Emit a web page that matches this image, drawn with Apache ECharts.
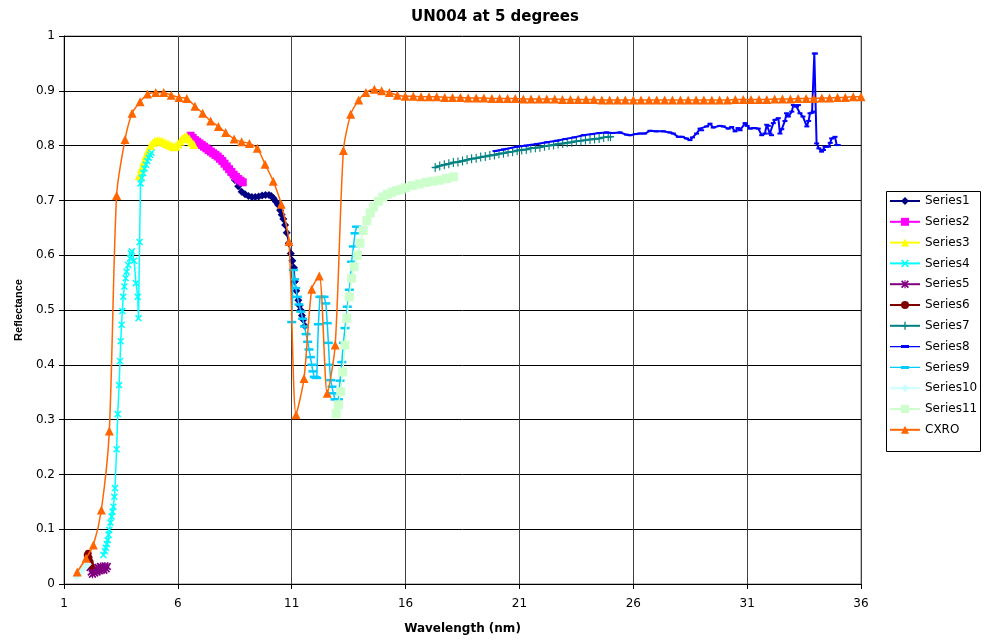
<!DOCTYPE html>
<html>
<head>
<meta charset="utf-8">
<script src="https://cdn.jsdelivr.net/npm/echarts@6/dist/echarts.min.js"></script>
<style>
html,body{margin:0;padding:0;background:#fff;}
#chart{width:984px;height:644px;}
</style>
</head>
<body>
<div id="chart"></div>
<script>
// Axis ticks
const xTicks = {min: 1, max: 36, step: 5};
const yTicks = {min: 0, max: 1, step: 0.1};

// Measured reflectance segments
const s1X = [8.35,8.5,8.65,8.8,8.95,9.1,9.25,9.4,9.55,9.7,9.85,10.0,10.1,10.2,10.3,10.4,10.49,10.56,10.63,10.71,10.78,10.87,10.96,11.03,11.1,11.14,11.2,11.29,11.34,11.39,11.45,11.51,11.58];
const s1Y = [0.748,0.737,0.726,0.716,0.711,0.708,0.706,0.706,0.707,0.709,0.71,0.71,0.708,0.704,0.698,0.692,0.682,0.674,0.666,0.655,0.641,0.622,0.603,0.59,0.577,0.552,0.535,0.518,0.508,0.5,0.49,0.482,0.471];

const s2X = [6.56,6.65,6.75,6.85,6.95,7.05,7.15,7.25,7.35,7.45,7.55,7.65,7.75,7.85,7.95,8.05,8.15,8.25,8.35,8.45,8.55,8.65,8.75,8.85];
const s2Y = [0.818,0.814,0.81,0.807,0.804,0.801,0.798,0.795,0.792,0.789,0.786,0.783,0.78,0.776,0.772,0.767,0.762,0.757,0.752,0.747,0.743,0.739,0.736,0.733];

const s3X = [4.3,4.4,4.5,4.6,4.7,4.8,4.9,5.0,5.1,5.2,5.3,5.4,5.5,5.6,5.7,5.8,5.9,6.0,6.1,6.2,6.3,6.4,6.5,6.6,6.7];
const s3Y = [0.745,0.758,0.77,0.782,0.792,0.8,0.805,0.808,0.809,0.809,0.808,0.806,0.804,0.802,0.8,0.798,0.799,0.803,0.808,0.813,0.816,0.816,0.812,0.806,0.802];

const s4X = [2.73,2.8,2.84,2.88,2.92,2.96,2.99,3.04,3.09,3.13,3.17,3.21,3.24,3.31,3.36,3.42,3.46,3.49,3.53,3.56,3.6,3.65,3.71,3.75,3.82,3.9,3.94,3.98,4.08,4.16,4.24,4.27,4.32,4.36,4.42,4.48,4.54,4.6,4.66,4.72,4.78,4.84];
const s4Y = [0.053,0.06,0.066,0.073,0.08,0.09,0.099,0.112,0.123,0.132,0.141,0.159,0.175,0.246,0.31,0.363,0.407,0.443,0.473,0.498,0.524,0.543,0.558,0.57,0.582,0.594,0.603,0.607,0.59,0.549,0.524,0.485,0.624,0.731,0.741,0.75,0.758,0.765,0.772,0.778,0.783,0.787];

const s5X = [2.15,2.2,2.25,2.3,2.35,2.4,2.45,2.5,2.55,2.6,2.65,2.7,2.75,2.8,2.85,2.9];
const s5Y = [0.03,0.022,0.018,0.025,0.02,0.028,0.022,0.03,0.024,0.032,0.026,0.03,0.025,0.033,0.028,0.032];

const s6X = [2.02,2.06,2.1,2.15,2.2];
const s6Y = [0.053,0.056,0.048,0.04,0.033];

const s7X = [17.3,17.5,17.7,17.9,18.1,18.3,18.5,18.7,18.9,19.1,19.3,19.5,19.7,19.9,20.1,20.3,20.5,20.7,20.9,21.1,21.3,21.5,21.7,21.9,22.1,22.3,22.5,22.7,22.9,23.1,23.3,23.5,23.7,23.9,24.1,24.3,24.5,24.7,24.9,25.0];
const s7Y = [0.76,0.763,0.765,0.767,0.769,0.77,0.772,0.774,0.776,0.777,0.779,0.78,0.782,0.783,0.785,0.786,0.788,0.789,0.791,0.792,0.793,0.795,0.796,0.797,0.799,0.8,0.801,0.803,0.804,0.805,0.806,0.808,0.809,0.81,0.811,0.812,0.813,0.815,0.816,0.816];

const s8X = [19.93,20.3,20.88,21.3,21.76,22.2,22.64,23.0,23.4,23.81,24.2,24.5,24.83,25.1,25.42,25.7,25.86,26.1,26.3,26.5,26.73,27.0,27.32,27.6,27.76,27.98,28.15,28.34,28.49,28.6,28.78,28.93,29.0,29.22,29.37,29.51,29.8,29.95,30.17,30.32,30.47,30.6,30.69,30.91,31.0,31.13,31.3,31.49,31.64,31.78,31.86,31.93,32.0,32.07,32.15,32.22,32.37,32.44,32.52,32.66,32.73,32.81,32.96,33.03,33.17,33.25,33.32,33.45,33.62,33.7,33.76,33.85,33.91,33.95,34.0,34.05,34.15,34.27,34.35,34.42,34.57,34.65,34.71,34.86,34.93,35.0];
const s8Y = [0.79,0.793,0.798,0.8,0.803,0.806,0.809,0.812,0.815,0.819,0.821,0.823,0.824,0.823,0.824,0.82,0.819,0.821,0.822,0.822,0.827,0.826,0.826,0.824,0.822,0.816,0.816,0.813,0.81,0.815,0.822,0.831,0.828,0.835,0.84,0.833,0.836,0.835,0.831,0.834,0.826,0.832,0.828,0.841,0.836,0.831,0.832,0.831,0.819,0.822,0.838,0.836,0.822,0.819,0.841,0.847,0.85,0.822,0.83,0.845,0.859,0.853,0.862,0.874,0.871,0.874,0.859,0.853,0.835,0.845,0.859,0.86,0.862,0.968,0.968,0.804,0.795,0.789,0.792,0.798,0.798,0.805,0.813,0.816,0.801,0.801];

const s9X = [11.0,11.07,11.12,11.18,11.25,11.32,11.4,11.48,11.56,11.63,11.7,11.76,11.82,11.88,11.93,11.99,12.05,12.1,12.17,12.24,12.32,12.42,12.5,12.56,12.61,12.66,12.71,12.77,12.83,12.9,12.98,13.05,13.12,13.2,13.27,13.34,13.44,13.53,13.63,13.71,13.78,13.85];
const s9Y = [0.478,0.573,0.556,0.54,0.524,0.51,0.497,0.484,0.47,0.456,0.442,0.428,0.414,0.4,0.388,0.378,0.377,0.376,0.474,0.524,0.524,0.524,0.512,0.476,0.44,0.4,0.372,0.36,0.348,0.337,0.337,0.337,0.371,0.405,0.44,0.467,0.506,0.537,0.588,0.616,0.64,0.652];

const s10X = [1.55,1.65,1.75,1.85,1.95,2.05];
const s10Y = [0.014,0.018,0.023,0.028,0.033,0.036];

const s11X = [12.95,13.05,13.15,13.24,13.34,13.42,13.53,13.63,13.74,13.88,14.0,14.14,14.3,14.45,14.6,14.8,15.0,15.2,15.4,15.6,15.8,16.0,16.3,16.6,16.9,17.2,17.5,17.8,18.1];
const s11Y = [0.311,0.327,0.351,0.387,0.436,0.485,0.524,0.558,0.579,0.6,0.622,0.645,0.663,0.677,0.688,0.698,0.706,0.711,0.715,0.718,0.72,0.723,0.727,0.73,0.733,0.735,0.737,0.74,0.743];

// CXRO calculated reflectance
const cxroX = [1.58,1.97,2.29,2.64,2.99,3.31,3.68,3.99,4.34,4.67,5.03,5.38,5.71,6.05,6.39,6.75,7.09,7.44,7.78,8.1,8.47,8.8,9.14,9.49,9.83,10.19,10.54,10.88,11.19,11.54,11.88,12.21,12.56,12.91,13.27,13.59,13.94,14.26,14.63,14.95,15.29,15.64,15.99,16.34,16.68,17.03,17.37,17.72,18.06,18.41,18.75,19.1,19.44,19.79,20.13,20.48,20.82,21.17,21.51,21.86,22.2,22.55,22.89,23.24,23.58,23.93,24.27,24.62,24.96,25.31,25.65,26.0,26.34,26.69,27.03,27.38,27.72,28.07,28.41,28.76,29.1,29.45,29.79,30.14,30.48,30.83,31.17,31.52,31.86,32.21,32.55,32.9,33.24,33.59,33.93,34.28,34.62,34.97,35.31,35.66,36.0];
const cxroY = [0.022,0.047,0.071,0.135,0.279,0.709,0.811,0.859,0.88,0.894,0.897,0.897,0.892,0.888,0.886,0.872,0.859,0.845,0.835,0.824,0.812,0.807,0.804,0.795,0.766,0.735,0.693,0.625,0.309,0.375,0.538,0.562,0.348,0.436,0.791,0.857,0.883,0.897,0.903,0.9,0.897,0.892,0.89,0.89,0.889,0.889,0.889,0.888,0.888,0.888,0.887,0.887,0.887,0.886,0.886,0.886,0.886,0.885,0.885,0.885,0.885,0.885,0.884,0.884,0.884,0.884,0.884,0.883,0.883,0.883,0.883,0.883,0.883,0.883,0.883,0.883,0.883,0.883,0.883,0.883,0.883,0.883,0.883,0.883,0.884,0.884,0.884,0.884,0.884,0.885,0.885,0.885,0.886,0.886,0.886,0.887,0.887,0.888,0.888,0.889,0.889];

const seriesNames = ['Series1','Series2','Series3','Series4','Series5','Series6','Series7','Series8','Series9','Series10','Series11','CXRO'];

const pairs = (xs, ys) => xs.map((x, i) => [x, ys[i]]);

// Marker shapes
const crossPath = 'path://M0,1.5L1.5,0L10,8.5L8.5,10Z M8.5,0L10,1.5L1.5,10L0,8.5Z';
const starPath = 'path://M0,1.5L1.5,0L10,8.5L8.5,10Z M8.5,0L10,1.5L1.5,10L0,8.5Z M4.3,0L5.7,0L5.7,10L4.3,10Z';
const plusPath = 'path://M4.2,0L5.8,0L5.8,4.2L10,4.2L10,5.8L5.8,5.8L5.8,10L4.2,10L4.2,5.8L0,5.8L0,4.2L4.2,4.2Z';
const dashIcon = 'path://M0,4.4L11,4.4L11,3.5L19,3.5L19,4.4L30,4.4L30,5.6L19,5.6L19,6.5L11,6.5L11,5.6L0,5.6Z';

const styles = [
  {color: '#000080', symbol: 'diamond', size: 8},
  {color: '#FF00FF', symbol: 'rect', size: 8},
  {color: '#FFFF00', symbol: 'triangle', size: 9},
  {color: '#00FFFF', symbol: crossPath, size: 7},
  {color: '#800080', symbol: starPath, size: 8},
  {color: '#800000', symbol: 'circle', size: 7},
  {color: '#008080', symbol: plusPath, size: [7, 9], width: 2},
  {color: '#0000FF', symbol: 'rect', size: [5, 2], width: 2},
  {color: '#00CCFF', symbol: 'rect', size: [9, 2.5]},
  {color: '#CCFFFF', symbol: 'diamond', size: 8},
  {color: '#CCFFCC', symbol: 'rect', size: 9},
  {color: '#FF6600', symbol: 'triangle', size: 9, smooth: 0.25}
];

const dataSets = [
  pairs(s1X, s1Y), pairs(s2X, s2Y), pairs(s3X, s3Y), pairs(s4X, s4Y),
  pairs(s5X, s5Y), pairs(s6X, s6Y), pairs(s7X, s7Y), pairs(s8X, s8Y),
  pairs(s9X, s9Y), pairs(s10X, s10Y), pairs(s11X, s11Y), pairs(cxroX, cxroY)
];

const font = "'Liberation Sans', Arial, sans-serif";
const wideFont = "'DejaVu Sans', Verdana, sans-serif";

const series = seriesNames.map((name, i) => ({
  name: name,
  type: 'line',
  data: dataSets[i],
  symbol: styles[i].symbol,
  symbolSize: styles[i].size,
  smooth: styles[i].smooth || false,
  lineStyle: {color: styles[i].color, width: styles[i].width || 1.5},
  itemStyle: {color: styles[i].color, borderWidth: 0},
  emphasis: {disabled: true},
  z: 2 + i * 0.01
}));

const legendData = seriesNames.map((name, i) =>
  (i === 7 || i === 8) ? {name: name, icon: dashIcon} : {name: name}
);

const chart = echarts.init(document.getElementById('chart'), null, {renderer: 'canvas'});
chart.setOption({
  animation: false,
  backgroundColor: '#ffffff',
  title: {
    text: 'UN004 at 5 degrees',
    left: 490, textAlign: 'center', top: 5,
    textStyle: {fontFamily: wideFont, fontSize: 15, fontWeight: 'bold', color: '#000'}
  },
  grid: {
    left: 64, top: 36, width: 797, height: 548,
    show: true, borderColor: '#808080', borderWidth: 1, backgroundColor: '#fff'
  },
  xAxis: {
    type: 'value', min: xTicks.min, max: xTicks.max, interval: xTicks.step,
    name: 'Wavelength (nm)', nameLocation: 'middle', nameGap: 39,
    nameTextStyle: {fontFamily: wideFont, fontSize: 12, fontWeight: 'bold', color: '#000'},
    axisLine: {show: true, onZero: false, lineStyle: {color: '#000', width: 1}},
    axisTick: {show: true, length: 5, lineStyle: {color: '#000'}},
    axisLabel: {fontFamily: wideFont, fontSize: 12, color: '#000', margin: 14},
    splitLine: {show: true, lineStyle: {color: '#404040', width: 1}}
  },
  yAxis: {
    type: 'value', min: yTicks.min, max: yTicks.max, interval: yTicks.step,
    name: 'Reflectance', nameLocation: 'middle', nameGap: 40,
    nameTextStyle: {fontFamily: font, fontSize: 11, fontWeight: 'bold', color: '#000'},
    axisLine: {show: true, onZero: false, lineStyle: {color: '#000', width: 1}},
    axisTick: {show: true, length: 5, lineStyle: {color: '#000'}},
    axisLabel: {fontFamily: wideFont, fontSize: 12, color: '#000', margin: 9},
    splitLine: {show: true, lineStyle: {color: '#000', width: 1}}
  },
  legend: {
    data: legendData,
    orient: 'vertical',
    left: 889, top: 195,
    padding: 0,
    itemWidth: 30, itemHeight: 10, itemGap: 8.8,
    selectedMode: false,
    textStyle: {fontFamily: wideFont, fontSize: 12, color: '#000'}
  },
  graphic: [{
    type: 'rect', left: 884, top: 189, z: 100, silent: true,
    shape: {width: 94, height: 260},
    style: {fill: 'none', stroke: '#000', lineWidth: 1}
  }],
  series: series
});
</script>
</body>
</html>
